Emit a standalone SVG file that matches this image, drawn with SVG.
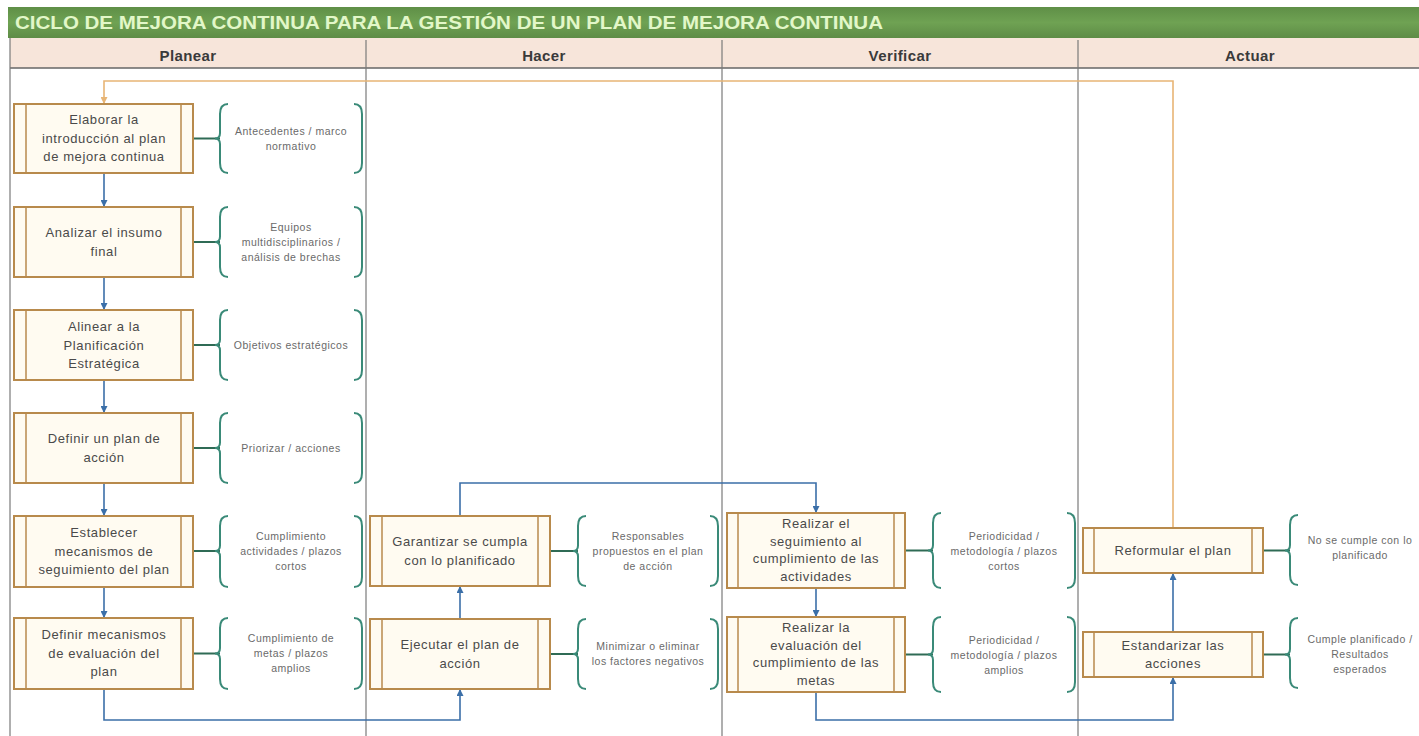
<svg xmlns="http://www.w3.org/2000/svg" width="1419" height="736" viewBox="0 0 1419 736">
<style>
.box{fill:#fffbf1;stroke:#b88a4c;stroke-width:2}
.inner{stroke:#b88a4c;stroke-width:1.5}
.bt{font-family:"Liberation Sans",Arial,sans-serif;font-size:13px;fill:#4a4a4a;text-anchor:middle;letter-spacing:0.6px}
.ct{font-family:"Liberation Sans",Arial,sans-serif;font-size:10.5px;fill:#6a6a6a;text-anchor:middle;letter-spacing:0.5px}
.hd{font-family:"Liberation Sans",Arial,sans-serif;font-size:15px;font-weight:bold;fill:#3a3a3a;text-anchor:middle;letter-spacing:0.4px}
.brace{fill:none;stroke:#3a8a78;stroke-width:2}
.tie{stroke:#2f6b55;stroke-width:2}
.flow{fill:none;stroke:#3b6fa8;stroke-width:1.6}
.back{fill:none;stroke:#e8b575;stroke-width:1.6}
.div{stroke:#7a7a7a;stroke-width:1.2}
</style>
<defs>
<marker id="ab" markerWidth="7" markerHeight="7" refX="6" refY="3.5" orient="auto" markerUnits="userSpaceOnUse"><path d="M0,0 L7,3.5 L0,7 z" fill="#3b6fa8"/></marker>
<marker id="ao" markerWidth="7" markerHeight="7" refX="6" refY="3.5" orient="auto" markerUnits="userSpaceOnUse"><path d="M0,0 L7,3.5 L0,7 z" fill="#e8b575"/></marker>
<linearGradient id="g" x1="0" y1="0" x2="0" y2="1"><stop offset="0" stop-color="#5f8f47"/><stop offset="0.5" stop-color="#6fa253"/><stop offset="1" stop-color="#5e8c46"/></linearGradient>
</defs>
<rect width="1419" height="736" fill="#ffffff"/>
<g id="frame">
<rect x="8" y="7" width="1411" height="31" fill="url(#g)"/>
<text x="15" y="29" font-family="Liberation Sans,Arial,sans-serif" font-size="17.5" font-weight="bold" fill="#e2f7c8" textLength="868" lengthAdjust="spacingAndGlyphs">CICLO DE MEJORA CONTINUA PARA LA GESTIÓN DE UN PLAN DE MEJORA CONTINUA</text>
<rect x="10" y="38" width="1409" height="30" fill="#f7e5da"/>
<line x1="10" y1="68" x2="1419" y2="68" stroke="#666" stroke-width="1.5"/>
<line class="div" x1="10" y1="38" x2="10" y2="736"/>
<line class="div" x1="366" y1="40" x2="366" y2="736"/>
<line class="div" x1="722" y1="40" x2="722" y2="736"/>
<line class="div" x1="1078" y1="40" x2="1078" y2="736"/>
<text class="hd" x="188" y="61">Planear</text>
<text class="hd" x="544" y="61">Hacer</text>
<text class="hd" x="900" y="61">Verificar</text>
<text class="hd" x="1250" y="61">Actuar</text>
</g>
<g id="connectors">
<path class="back" d="M1173,528 V81 H104 V103" marker-end="url(#ao)"/>
<path class="flow" d="M104,173 V206" marker-end="url(#ab)"/>
<path class="flow" d="M104,277 V309" marker-end="url(#ab)"/>
<path class="flow" d="M104,380 V412" marker-end="url(#ab)"/>
<path class="flow" d="M104,483 V515" marker-end="url(#ab)"/>
<path class="flow" d="M104,587 V617" marker-end="url(#ab)"/>
<path class="flow" d="M104,689 V720 H460 V690" marker-end="url(#ab)"/>
<path class="flow" d="M460,619 V587" marker-end="url(#ab)"/>
<path class="flow" d="M460,516 V483 H816 V512" marker-end="url(#ab)"/>
<path class="flow" d="M816,588 V616" marker-end="url(#ab)"/>
<path class="flow" d="M816,692 V720 H1173 V678" marker-end="url(#ab)"/>
<path class="flow" d="M1173,632 V574" marker-end="url(#ab)"/>
<line class="tie" x1="193" y1="138.5" x2="220" y2="138.5"/>
<line class="tie" x1="193" y1="242" x2="220" y2="242"/>
<line class="tie" x1="193" y1="345" x2="220" y2="345"/>
<line class="tie" x1="193" y1="448" x2="220" y2="448"/>
<line class="tie" x1="193" y1="551" x2="220" y2="551"/>
<line class="tie" x1="193" y1="653.5" x2="220" y2="653.5"/>
<line class="tie" x1="550" y1="551" x2="578" y2="551"/>
<line class="tie" x1="550" y1="654" x2="578" y2="654"/>
<line class="tie" x1="905" y1="550.5" x2="933" y2="550.5"/>
<line class="tie" x1="905" y1="654.5" x2="933" y2="654.5"/>
<line class="tie" x1="1263" y1="550.5" x2="1290" y2="550.5"/>
<line class="tie" x1="1263" y1="654.5" x2="1290" y2="654.5"/>
</g>
<g id="n1"><rect class="box" x="14" y="104" width="179" height="69"/><line class="inner" x1="26" y1="104" x2="26" y2="173"/><line class="inner" x1="181" y1="104" x2="181" y2="173"/>
<text class="bt" x="104" y="124">Elaborar la</text><text class="bt" x="104" y="142.5">introducción al plan</text><text class="bt" x="104" y="161">de mejora continua</text></g>
<g id="n2"><rect class="box" x="14" y="207" width="179" height="70"/><line class="inner" x1="26" y1="207" x2="26" y2="277"/><line class="inner" x1="181" y1="207" x2="181" y2="277"/>
<text class="bt" x="104" y="237">Analizar el insumo</text><text class="bt" x="104" y="256">final</text></g>
<g id="n3"><rect class="box" x="14" y="310" width="179" height="70"/><line class="inner" x1="26" y1="310" x2="26" y2="380"/><line class="inner" x1="181" y1="310" x2="181" y2="380"/>
<text class="bt" x="104" y="331">Alinear a la</text><text class="bt" x="104" y="349.5">Planificación</text><text class="bt" x="104" y="368">Estratégica</text></g>
<g id="n4"><rect class="box" x="14" y="413" width="179" height="70"/><line class="inner" x1="26" y1="413" x2="26" y2="483"/><line class="inner" x1="181" y1="413" x2="181" y2="483"/>
<text class="bt" x="104" y="443">Definir un plan de</text><text class="bt" x="104" y="462">acción</text></g>
<g id="n5"><rect class="box" x="14" y="516" width="179" height="71"/><line class="inner" x1="26" y1="516" x2="26" y2="587"/><line class="inner" x1="181" y1="516" x2="181" y2="587"/>
<text class="bt" x="104" y="537">Establecer</text><text class="bt" x="104" y="555.5">mecanismos de</text><text class="bt" x="104" y="574">seguimiento del plan</text></g>
<g id="n6"><rect class="box" x="14" y="618" width="179" height="71"/><line class="inner" x1="26" y1="618" x2="26" y2="689"/><line class="inner" x1="181" y1="618" x2="181" y2="689"/>
<text class="bt" x="104" y="639">Definir mecanismos</text><text class="bt" x="104" y="657.5">de evaluación del</text><text class="bt" x="104" y="676">plan</text></g>
<g id="n7"><rect class="box" x="370" y="516" width="180" height="70"/><line class="inner" x1="382" y1="516" x2="382" y2="586"/><line class="inner" x1="538" y1="516" x2="538" y2="586"/>
<text class="bt" x="460" y="546">Garantizar se cumpla</text><text class="bt" x="460" y="565">con lo planificado</text></g>
<g id="n8"><rect class="box" x="370" y="619" width="180" height="70"/><line class="inner" x1="382" y1="619" x2="382" y2="689"/><line class="inner" x1="538" y1="619" x2="538" y2="689"/>
<text class="bt" x="460" y="649">Ejecutar el plan de</text><text class="bt" x="460" y="668">acción</text></g>
<g id="n9"><rect class="box" x="727" y="513" width="178" height="75"/><line class="inner" x1="738" y1="513" x2="738" y2="588"/><line class="inner" x1="894" y1="513" x2="894" y2="588"/>
<text class="bt" x="816" y="528">Realizar el</text><text class="bt" x="816" y="545.5">seguimiento al</text><text class="bt" x="816" y="563">cumplimiento de las</text><text class="bt" x="816" y="580.5">actividades</text></g>
<g id="n10"><rect class="box" x="727" y="617" width="178" height="75"/><line class="inner" x1="738" y1="617" x2="738" y2="692"/><line class="inner" x1="894" y1="617" x2="894" y2="692"/>
<text class="bt" x="816" y="632">Realizar la</text><text class="bt" x="816" y="649.5">evaluación del</text><text class="bt" x="816" y="667">cumplimiento de las</text><text class="bt" x="816" y="684.5">metas</text></g>
<g id="n11"><rect class="box" x="1083" y="528" width="180" height="45"/><line class="inner" x1="1094" y1="528" x2="1094" y2="573"/><line class="inner" x1="1252" y1="528" x2="1252" y2="573"/>
<text class="bt" x="1173" y="555">Reformular el plan</text></g>
<g id="n12"><rect class="box" x="1083" y="632" width="180" height="45"/><line class="inner" x1="1094" y1="632" x2="1094" y2="677"/><line class="inner" x1="1252" y1="632" x2="1252" y2="677"/>
<text class="bt" x="1173" y="650">Estandarizar las</text><text class="bt" x="1173" y="668">acciones</text></g>
<g id="c1"><path class="brace" d="M228,104 Q220,104 220,114 V133 Q220,138.5 215,138.5 Q220,138.5 220,144 V163 Q220,173 228,173"/><path class="brace" d="M354,104 Q362,104 362,114 V163 Q362,173 354,173"/>
<text class="ct" x="291" y="135">Antecedentes / marco</text><text class="ct" x="291" y="150">normativo</text></g>
<g id="c2"><path class="brace" d="M228,207 Q220,207 220,217 V236.5 Q220,242 215,242 Q220,242 220,247.5 V267 Q220,277 228,277"/><path class="brace" d="M354,207 Q362,207 362,217 V267 Q362,277 354,277"/>
<text class="ct" x="291" y="231">Equipos</text><text class="ct" x="291" y="246">multidisciplinarios /</text><text class="ct" x="291" y="261">análisis de brechas</text></g>
<g id="c3"><path class="brace" d="M228,310 Q220,310 220,320 V339.5 Q220,345 215,345 Q220,345 220,350.5 V370 Q220,380 228,380"/><path class="brace" d="M354,310 Q362,310 362,320 V370 Q362,380 354,380"/>
<text class="ct" x="291" y="349">Objetivos estratégicos</text></g>
<g id="c4"><path class="brace" d="M228,413 Q220,413 220,423 V442.5 Q220,448 215,448 Q220,448 220,453.5 V473 Q220,483 228,483"/><path class="brace" d="M354,413 Q362,413 362,423 V473 Q362,483 354,483"/>
<text class="ct" x="291" y="452">Priorizar / acciones</text></g>
<g id="c5"><path class="brace" d="M228,516 Q220,516 220,526 V545.5 Q220,551 215,551 Q220,551 220,556.5 V577 Q220,587 228,587"/><path class="brace" d="M354,516 Q362,516 362,526 V577 Q362,587 354,587"/>
<text class="ct" x="291" y="540">Cumplimiento</text><text class="ct" x="291" y="555">actividades / plazos</text><text class="ct" x="291" y="570">cortos</text></g>
<g id="c6"><path class="brace" d="M228,618 Q220,618 220,628 V648 Q220,653.5 215,653.5 Q220,653.5 220,659 V679 Q220,689 228,689"/><path class="brace" d="M354,618 Q362,618 362,628 V679 Q362,689 354,689"/>
<text class="ct" x="291" y="642">Cumplimiento de</text><text class="ct" x="291" y="657">metas / plazos</text><text class="ct" x="291" y="672">amplios</text></g>
<g id="c7"><path class="brace" d="M586,516 Q578,516 578,526 V545.5 Q578,551 573,551 Q578,551 578,556.5 V576 Q578,586 586,586"/><path class="brace" d="M710,516 Q718,516 718,526 V576 Q718,586 710,586"/>
<text class="ct" x="648" y="540">Responsables</text><text class="ct" x="648" y="555">propuestos en el plan</text><text class="ct" x="648" y="570">de acción</text></g>
<g id="c8"><path class="brace" d="M586,619 Q578,619 578,629 V648.5 Q578,654 573,654 Q578,654 578,659.5 V679 Q578,689 586,689"/><path class="brace" d="M710,619 Q718,619 718,629 V679 Q718,689 710,689"/>
<text class="ct" x="648" y="650">Minimizar o eliminar</text><text class="ct" x="648" y="665">los factores negativos</text></g>
<g id="c9"><path class="brace" d="M941,513 Q933,513 933,523 V545 Q933,550.5 928,550.5 Q933,550.5 933,556 V578 Q933,588 941,588"/><path class="brace" d="M1067,513 Q1075,513 1075,523 V578 Q1075,588 1067,588"/>
<text class="ct" x="1004" y="540">Periodicidad /</text><text class="ct" x="1004" y="555">metodología / plazos</text><text class="ct" x="1004" y="570">cortos</text></g>
<g id="c10"><path class="brace" d="M941,617 Q933,617 933,627 V649 Q933,654.5 928,654.5 Q933,654.5 933,660 V682 Q933,692 941,692"/><path class="brace" d="M1067,617 Q1075,617 1075,627 V682 Q1075,692 1067,692"/>
<text class="ct" x="1004" y="644">Periodicidad /</text><text class="ct" x="1004" y="659">metodología / plazos</text><text class="ct" x="1004" y="674">amplios</text></g>
<g id="c11"><path class="brace" d="M1298,515 Q1290,515 1290,525 V545 Q1290,550.5 1285,550.5 Q1290,550.5 1290,556 V575 Q1290,585 1298,585"/>
<text class="ct" x="1360" y="544">No se cumple con lo</text><text class="ct" x="1360" y="559">planificado</text></g>
<g id="c12"><path class="brace" d="M1298,618 Q1290,618 1290,628 V649 Q1290,654.5 1285,654.5 Q1290,654.5 1290,660 V678 Q1290,688 1298,688"/>
<text class="ct" x="1360" y="643">Cumple planificado /</text><text class="ct" x="1360" y="658">Resultados</text><text class="ct" x="1360" y="673">esperados</text></g>
</svg>
